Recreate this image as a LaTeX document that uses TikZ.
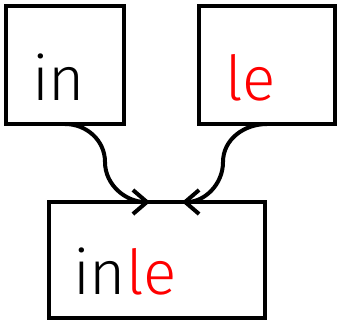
\documentclass[tikz,border=0pt]{standalone}
\usepackage{fontspec}
\usepackage{xcolor}
\usepackage{tikz}
\usetikzlibrary{arrows.meta,positioning}
\newfontfamily\wordfont{Fira Sans Light}
\definecolor{inkred}{HTML}{FF0000}
\tikzset{
  wordbox/.style={
    rectangle, draw=black, line width=4pt, fill=white,
    minimum height=118pt, outer sep=0pt, inner sep=0pt
  },
  wordtext/.style={
    anchor=base west, inner sep=0pt, font=\wordfont\fontsize{62}{62}\selectfont
  },
  mergearrow/.style={-{Straight Barb[length=14pt,width=24pt]}, line width=4pt},
}
\begin{document}
\begin{tikzpicture}[x=1pt, y=1pt, node distance=75pt]
  \useasboundingbox (0,0) rectangle (339,322);
  \node[wordbox, minimum width=118pt] (in) at (65,257) {};
  \node[wordbox, minimum width=136pt, right=75pt of in] (le) {};
  \node[wordbox, minimum width=216pt, minimum height=116pt] (inle) at (157,62) {};

  \node[wordtext] (intxt) at ([shift={(26pt,24pt)}]in.south west) {in};
  \node[wordtext, text=inkred] (letxt) at ([shift={(26pt,24pt)}]le.south west) {le};
  \node[wordtext] (inletxt) at ([shift={(24pt,24pt)}]inle.south west) {in\textcolor{inkred}{le}};

  % bends half way down
  \coordinate (inbend) at (105,160);
  \coordinate (lebend) at (223,160);

  \draw[mergearrow] (in.south) to[out=0, in=90] (inbend)
    to[out=-90, in=180] ([xshift=-7pt]inle.north);
  \draw[mergearrow] (le.south) to[out=180, in=90] (lebend)
    to[out=-90, in=0] ([xshift=25pt]inle.north);
\end{tikzpicture}
\end{document}
